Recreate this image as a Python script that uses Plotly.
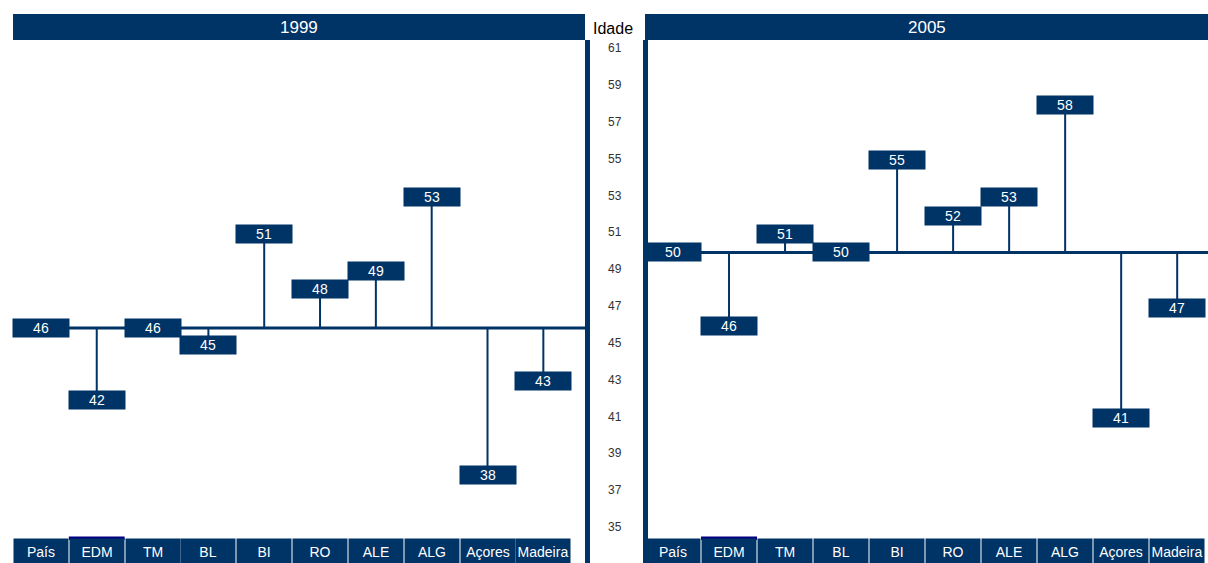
import plotly.graph_objects as go

regioes = ["País", "EDM", "TM", "BL", "BI", "RO", "ALE", "ALG", "Açores", "Madeira"]
idade_1999 = [45.8, 41.9, 45.8, 44.9, 50.9, 47.9, 48.9, 52.9, 37.8, 42.9]
idade_2005 = [49.9, 45.9, 50.9, 49.9, 54.9, 51.9, 52.9, 57.9, 40.9, 46.9]
anos = ["1999", "2005"]
y_ticks = list(range(35, 62, 2))

NAVY = "#003366"
FONT = "Liberation Sans, Arial, sans-serif"
W, H = 1208, 563


def px(x):
    return x / W


def py(y):
    return (H - y) / H


fig = go.Figure()
annotations = []
shapes = []

panels = [("x", "y", idade_1999), ("x2", "y2", idade_2005)]
for xr, yr, vals in panels:
    base = vals[0]
    # stems from the País baseline to each value
    xs, ys = [], []
    for cat, v in zip(regioes[1:], vals[1:]):
        xs += [cat, cat, None]
        ys += [base, v, None]
    fig.add_trace(go.Scatter(x=xs, y=ys, xaxis=xr, yaxis=yr, mode="lines",
                             line=dict(color=NAVY, width=2), hoverinfo="skip",
                             showlegend=False))
    # baseline
    shapes.append(dict(type="line", xref=xr + " domain", yref=yr, x0=0, x1=1,
                       y0=base, y1=base, line=dict(color=NAVY, width=3)))
    # value boxes
    for cat, v in zip(regioes, vals):
        annotations.append(dict(x=cat, y=v, xref=xr, yref=yr, text=f"{v:.0f}",
                                showarrow=False, width=56, height=18, borderpad=0,
                                xanchor="center", yanchor="middle",
                                bgcolor=NAVY, font=dict(color="white", size=14, family=FONT)))
    # category labels at the bottom
    for cat in regioes:
        annotations.append(dict(x=cat, y=py(551), xref=xr, yref="paper", text=cat,
                                showarrow=False, width=54, height=25, borderpad=0,
                                bgcolor=NAVY, xanchor="center", yanchor="middle",
                                font=dict(color="white", size=14, family=FONT)))
    # small accent over EDM
    shapes.append(dict(type="rect", xref=xr, yref="paper", x0=0.5, x1=1.5,
                       y0=py(540), y1=py(536.5), fillcolor="#000080",
                       line=dict(width=0)))

# title bars
for (x0, x1), ano in zip([(13, 585), (645, 1208)], anos):
    shapes.append(dict(type="rect", xref="paper", yref="paper", x0=px(x0), x1=px(x1),
                       y0=py(40), y1=py(14), fillcolor=NAVY, line=dict(width=0)))
    annotations.append(dict(x=px((x0 + x1) / 2), y=py(27), xref="paper", yref="paper",
                            text=ano, showarrow=False, xanchor="center", yanchor="middle",
                            font=dict(color="white", size=17, family=FONT)))

# thick panel borders near the axis
for xp in (587.5, 645.5):
    shapes.append(dict(type="line", xref="paper", yref="paper", x0=px(xp), x1=px(xp),
                       y0=0, y1=py(40), line=dict(color=NAVY, width=5)))

annotations.append(dict(x=px(613), y=py(28), xref="paper", yref="paper", text="Idade",
                        showarrow=False, xanchor="center", yanchor="middle",
                        font=dict(color="black", size=16, family=FONT)))

y_dom = [py(538), py(40)]
y_rng = [34.40, 61.43]

fig.update_layout(
    width=W, height=H,
    margin=dict(l=0, r=0, t=0, b=0),
    paper_bgcolor="white", plot_bgcolor="white",
    showlegend=False,
    font=dict(family=FONT),
    xaxis=dict(domain=[px(13), px(588)], range=[-0.5, 9.8], type="category",
               categoryorder="array", categoryarray=regioes,
               showticklabels=False, showgrid=False, zeroline=False, ticks=""),
    xaxis2=dict(domain=[px(645), 1], range=[-0.5, 9.55], type="category",
                categoryorder="array", categoryarray=regioes,
                showticklabels=False, showgrid=False, zeroline=False, ticks=""),
    yaxis=dict(domain=y_dom, range=y_rng, anchor="free", position=px(607), side="right",
               tickvals=y_ticks, ticks="", showgrid=False, zeroline=False, showline=False,
               tickfont=dict(size=12, color="#333333", family=FONT)),
    yaxis2=dict(domain=y_dom, range=y_rng, anchor="x2", showticklabels=False,
                showgrid=False, zeroline=False, ticks=""),
    shapes=shapes,
    annotations=annotations,
)

# drop the default page margin so the figure fills the window exactly
fig.write_html("out.html", config={"displayModeBar": False},
               post_script="document.body.style.margin='0';document.body.style.overflow='hidden';")
